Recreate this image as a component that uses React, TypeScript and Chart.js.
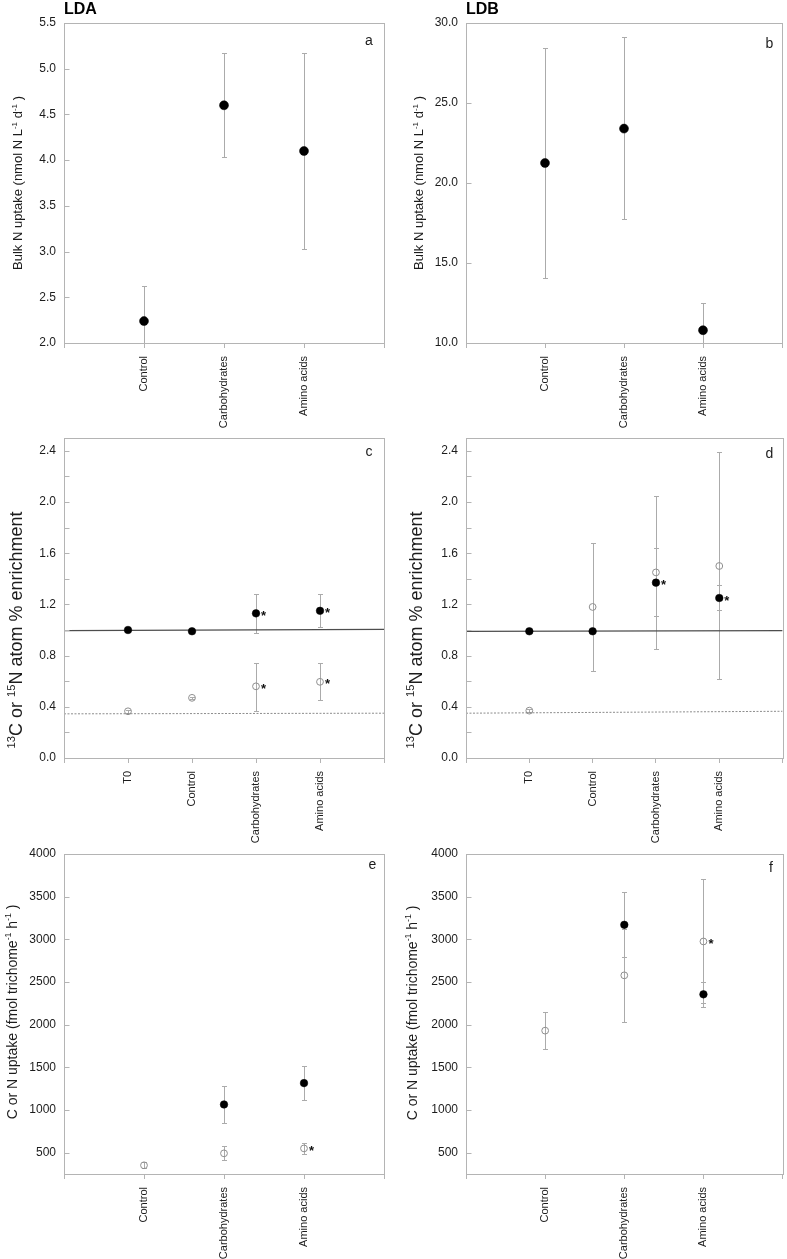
import React, { useEffect, useRef } from 'react';
import { Chart, registerables } from 'chart.js';

Chart.register(...registerables);

const FONT = '"Liberation Sans", Arial, Helvetica, sans-serif';
const FRAME = '#b4b4b4';
const TEXT = '#1c1c1c';
const ERR = '#ababab';

// ---------- categories ----------
const uptakeCategories = ['Control', 'Carbohydrates', 'Amino acids'];
const enrichCategories = ['T0', 'Control', 'Carbohydrates', 'Amino acids'];

// ---------- panel a : LDA bulk N uptake ----------
const ldaBulkMean = [2.24, 4.6, 4.1];
const ldaBulkLow = [1.86, 4.03, 3.03];
const ldaBulkHigh = [2.62, 5.17, 5.17];
const ldaBulkTicks = [2.0, 2.5, 3.0, 3.5, 4.0, 4.5, 5.0, 5.5];

// ---------- panel b : LDB bulk N uptake ----------
const ldbBulkMean = [21.25, 23.4, 10.8];
const ldbBulkLow = [14.05, 17.75, 9.1];
const ldbBulkHigh = [28.45, 29.1, 12.5];
const ldbBulkTicks = [10, 15, 20, 25, 30];

// ---------- panel c : LDA atom % enrichment ----------
const ldaC13 = [1.0, 0.99, 1.13, 1.15];
const ldaC13Low = [null, null, 0.98, 1.02];
const ldaC13High = [null, null, 1.28, 1.28];
const ldaC13Star = [false, false, true, true];
const ldaN15 = [0.365, 0.47, 0.56, 0.595];
const ldaN15Low = [0.355, 0.46, 0.37, 0.45];
const ldaN15High = [0.375, 0.48, 0.74, 0.74];
const ldaN15Star = [false, false, true, true];
const ldaC13Natural = [0.995, 1.005];
const ldaN15Natural = [0.345, 0.35];

// ---------- panel d : LDB atom % enrichment ----------
const ldbC13 = [0.99, 0.99, 1.37, 1.25];
const ldbC13Low = [null, null, 1.11, 1.16];
const ldbC13High = [null, null, 1.64, 1.35];
const ldbC13Star = [false, false, true, true];
const ldbN15 = [0.37, 1.18, 1.45, 1.5];
const ldbN15Low = [0.36, 0.68, 0.85, 0.62];
const ldbN15High = [0.38, 1.68, 2.05, 2.39];
const ldbC13Natural = [0.99, 0.995];
const ldbN15Natural = [0.35, 0.365];

const enrichTicks = [0, 0.2, 0.4, 0.6, 0.8, 1.0, 1.2, 1.4, 1.6, 1.8, 2.0, 2.2, 2.4];
const enrichLabelled = [0, 0.4, 0.8, 1.2, 1.6, 2.0, 2.4];

// ---------- panel e : LDA per-trichome uptake ----------
const ldaCellC = [null, 1065, 1315];
const ldaCellCLow = [null, 848, 1120];
const ldaCellCHigh = [null, 1283, 1520];
const ldaCellN = [352, 492, 550];
const ldaCellNLow = [320, 415, 490];
const ldaCellNHigh = [385, 578, 612];
const ldaCellNStar = [false, false, true];

// ---------- panel f : LDB per-trichome uptake ----------
const ldbCellC = [null, 3170, 2355];
const ldbCellCLow = [null, 2790, 2205];
const ldbCellCHigh = [null, 3555, 2505];
const ldbCellN = [1930, 2578, 2975];
const ldbCellNLow = [1715, 2030, 2250];
const ldbCellNHigh = [2145, 3125, 3705];
const ldbCellNStar = [false, false, true];

const cellTicks = [500, 1000, 1500, 2000, 2500, 3000, 3500, 4000];

// ---------- axis titles ----------
type Seg = { t: string; sup?: boolean };
const bulkTitle: Seg[] = [
  { t: 'Bulk N uptake (nmol N L' }, { t: '-1', sup: true }, { t: ' d' }, { t: '-1', sup: true }, { t: ' )' },
];
const enrichTitle: Seg[] = [
  { t: '13', sup: true }, { t: 'C or ' }, { t: '15', sup: true }, { t: 'N atom % enrichment' },
];
const cellTitle: Seg[] = [
  { t: 'C or N uptake (fmol trichome' }, { t: '-1', sup: true }, { t: ' h' }, { t: '-1', sup: true }, { t: ' )' },
];

type Series = {
  values: (number | null)[];
  low?: (number | null)[];
  high?: (number | null)[];
  star?: boolean[];
  filled: boolean;
};

type Panel = {
  left: number; top: number; width: number; height: number;
  area: { l: number; t: number; r: number; b: number };
  categories: string[];
  yMin: number; yMax: number; yTicks: number[]; yLabelled: number[]; yDecimals: number;
  series: Series[];
  baselines?: { values: number[]; dashed: boolean }[];
  title: Seg[]; titleSize: number; titleX: number; titleY: number;
  letter: string; letterX: number; letterY: number;
  heading?: string;
  pointRadius: number; openRadius: number;
};

const panels: Panel[] = [
  {
    left: 0, top: 0, width: 393, height: 432, area: { l: 64, t: 23, r: 384, b: 343 },
    categories: uptakeCategories, yMin: 2, yMax: 5.5, yTicks: ldaBulkTicks, yLabelled: ldaBulkTicks, yDecimals: 1,
    series: [{ values: ldaBulkMean, low: ldaBulkLow, high: ldaBulkHigh, filled: true }],
    title: bulkTitle, titleSize: 13, titleX: 17.3, titleY: 183,
    letter: 'a', letterX: 369, letterY: 45, heading: 'LDA', pointRadius: 4.5, openRadius: 3.4,
  },
  {
    left: 393, top: 0, width: 394, height: 432, area: { l: 466, t: 23, r: 784, b: 343 },
    categories: uptakeCategories, yMin: 10, yMax: 30, yTicks: ldbBulkTicks, yLabelled: ldbBulkTicks, yDecimals: 1,
    series: [{ values: ldbBulkMean, low: ldbBulkLow, high: ldbBulkHigh, filled: true }],
    title: bulkTitle, titleSize: 13, titleX: 418.3, titleY: 183,
    letter: 'b', letterX: 769.3, letterY: 48.3, heading: 'LDB', pointRadius: 4.5, openRadius: 3.4,
  },
  {
    left: 0, top: 432, width: 393, height: 413, area: { l: 64, t: 438, r: 384, b: 758 },
    categories: enrichCategories, yMin: 0, yMax: 2.5, yTicks: enrichTicks, yLabelled: enrichLabelled, yDecimals: 1,
    series: [
      { values: ldaN15, low: ldaN15Low, high: ldaN15High, star: ldaN15Star, filled: false },
      { values: ldaC13, low: ldaC13Low, high: ldaC13High, star: ldaC13Star, filled: true },
    ],
    baselines: [{ values: ldaC13Natural, dashed: false }, { values: ldaN15Natural, dashed: true }],
    title: enrichTitle, titleSize: 18, titleX: 15.7, titleY: 630,
    letter: 'c', letterX: 369, letterY: 456, pointRadius: 3.8, openRadius: 3.4,
  },
  {
    left: 393, top: 432, width: 394, height: 413, area: { l: 466, t: 438, r: 784, b: 758 },
    categories: enrichCategories, yMin: 0, yMax: 2.5, yTicks: enrichTicks, yLabelled: enrichLabelled, yDecimals: 1,
    series: [
      { values: ldbN15, low: ldbN15Low, high: ldbN15High, filled: false },
      { values: ldbC13, low: ldbC13Low, high: ldbC13High, star: ldbC13Star, filled: true },
    ],
    baselines: [{ values: ldbC13Natural, dashed: false }, { values: ldbN15Natural, dashed: true }],
    title: enrichTitle, titleSize: 18, titleX: 415.5, titleY: 630,
    letter: 'd', letterX: 769.3, letterY: 457.7, pointRadius: 3.8, openRadius: 3.4,
  },
  {
    left: 0, top: 845, width: 393, height: 414, area: { l: 64, t: 854, r: 384, b: 1174 },
    categories: uptakeCategories, yMin: 250, yMax: 4000, yTicks: cellTicks, yLabelled: cellTicks, yDecimals: 0,
    series: [
      { values: ldaCellN, low: ldaCellNLow, high: ldaCellNHigh, star: ldaCellNStar, filled: false },
      { values: ldaCellC, low: ldaCellCLow, high: ldaCellCHigh, filled: true },
    ],
    title: cellTitle, titleSize: 14, titleX: 11.7, titleY: 1012,
    letter: 'e', letterX: 372.3, letterY: 869.3, pointRadius: 3.8, openRadius: 3.4,
  },
  {
    left: 393, top: 845, width: 394, height: 414, area: { l: 466, t: 854, r: 784, b: 1174 },
    categories: uptakeCategories, yMin: 250, yMax: 4000, yTicks: cellTicks, yLabelled: cellTicks, yDecimals: 0,
    series: [
      { values: ldbCellN, low: ldbCellNLow, high: ldbCellNHigh, star: ldbCellNStar, filled: false },
      { values: ldbCellC, low: ldbCellCLow, high: ldbCellCHigh, filled: true },
    ],
    title: cellTitle, titleSize: 14, titleX: 411.7, titleY: 1013,
    letter: 'f', letterX: 771, letterY: 871.7, pointRadius: 3.8, openRadius: 3.4,
  },
];

function drawRotatedRich(ctx: CanvasRenderingContext2D, segs: Seg[], cx: number, cy: number, size: number) {
  ctx.save();
  ctx.translate(cx, cy);
  ctx.rotate(-Math.PI / 2);
  const parts = segs.map((s) => {
    const fs = s.sup ? size * 0.62 : size;
    ctx.font = `${fs}px ${FONT}`;
    return { ...s, fs, w: ctx.measureText(s.t).width };
  });
  const total = parts.reduce((a, p) => a + p.w, 0);
  let xx = -total / 2;
  ctx.fillStyle = TEXT;
  ctx.textBaseline = 'alphabetic';
  ctx.textAlign = 'left';
  const base = size * 0.36;
  parts.forEach((p) => {
    ctx.font = `${p.fs}px ${FONT}`;
    ctx.fillText(p.t, xx, p.sup ? base - size * 0.42 : base);
    xx += p.w;
  });
  ctx.restore();
}

const decorPlugin = {
  id: 'decor',
  beforeDatasetsDraw(chart: any, _args: any, opts: any) {
    const p: Panel = opts.p;
    const { ctx, chartArea: ca, scales } = chart;
    const x = scales.x;
    const y = scales.y;
    ctx.save();
    ctx.beginPath();
    ctx.rect(ca.left, ca.top, ca.right - ca.left, ca.bottom - ca.top);
    ctx.clip();
    ctx.strokeStyle = ERR;
    ctx.lineWidth = 1;
    p.series.forEach((s) => {
      if (!s.low || !s.high) return;
      s.values.forEach((v, i) => {
        const lo = s.low![i];
        const hi = s.high![i];
        if (v == null || lo == null || hi == null) return;
        const px = Math.round(x.getPixelForValue(i + 1)) + 0.5;
        const pl = Math.round(y.getPixelForValue(lo)) + 0.5;
        const ph = Math.round(y.getPixelForValue(hi)) + 0.5;
        ctx.beginPath();
        ctx.moveTo(px, pl);
        ctx.lineTo(px, ph);
        ctx.moveTo(px - 2.5, pl);
        ctx.lineTo(px + 2.5, pl);
        ctx.moveTo(px - 2.5, ph);
        ctx.lineTo(px + 2.5, ph);
        ctx.stroke();
      });
    });
    ctx.restore();
  },
  afterDraw(chart: any, _args: any, opts: any) {
    const p: Panel = opts.p;
    const { ctx, chartArea: ca, scales } = chart;
    const x = scales.x;
    const y = scales.y;
    ctx.save();
    // frame
    ctx.strokeStyle = FRAME;
    ctx.lineWidth = 1;
    const L = Math.round(ca.left) + 0.5;
    const R = Math.round(ca.right) + 0.5;
    const T = Math.round(ca.top) + 0.5;
    const B = Math.round(ca.bottom) + 0.5;
    ctx.strokeRect(L, T, R - L, B - T);
    // inner y tick marks
    ctx.beginPath();
    p.yTicks.forEach((v) => {
      const py = Math.round(y.getPixelForValue(v)) + 0.5;
      ctx.moveTo(L, py);
      ctx.lineTo(L + 5, py);
    });
    ctx.stroke();
    // significance stars
    ctx.fillStyle = '#111';
    ctx.font = `bold 13px ${FONT}`;
    ctx.textAlign = 'left';
    ctx.textBaseline = 'middle';
    p.series.forEach((s) => {
      if (!s.star) return;
      s.values.forEach((v, i) => {
        if (v == null || !s.star![i]) return;
        ctx.fillText('*', x.getPixelForValue(i + 1) + 5, y.getPixelForValue(v) + 3);
      });
    });
    // panel letter
    ctx.fillStyle = TEXT;
    ctx.font = `14px ${FONT}`;
    ctx.textAlign = 'center';
    ctx.textBaseline = 'alphabetic';
    ctx.fillText(p.letter, p.letterX - p.left, p.letterY - p.top);
    // heading
    if (p.heading) {
      ctx.font = `bold 16px ${FONT}`;
      ctx.textAlign = 'left';
      ctx.fillStyle = '#000';
      ctx.fillText(p.heading, p.area.l - p.left, 14 - p.top);
    }
    ctx.restore();
    drawRotatedRich(ctx, p.title, p.titleX - p.left, p.titleY - p.top, p.titleSize);
  },
};

function buildConfig(p: Panel): any {
  const n = p.categories.length;
  const xPositions = Array.from({ length: n + 2 }, (_, i) => i);
  const datasets: any[] = [];
  (p.baselines || []).forEach((bl) => {
    datasets.push({
      type: 'line',
      showLine: true,
      data: [
        { x: 0, y: bl.values[0] },
        { x: n + 1, y: bl.values[1] },
      ],
      borderColor: bl.dashed ? '#8c8c8c' : '#4d4d4d',
      borderWidth: bl.dashed ? 1 : 1.3,
      borderDash: bl.dashed ? [2, 1.5] : [],
      pointRadius: 0,
      fill: false,
      order: 3,
    });
  });
  p.series.forEach((s) => {
    datasets.push({
      type: 'scatter',
      data: s.values
        .map((v, i) => (v == null ? null : { x: i + 1, y: v }))
        .filter((d) => d !== null),
      pointRadius: s.filled ? p.pointRadius : p.openRadius,
      pointHoverRadius: s.filled ? p.pointRadius : p.openRadius,
      backgroundColor: s.filled ? '#000' : 'rgba(255,255,255,0)',
      borderColor: s.filled ? '#000' : '#8f8f8f',
      borderWidth: s.filled ? 0.5 : 1,
      order: s.filled ? 1 : 2,
    });
  });

  return {
    type: 'scatter',
    data: { datasets },
    options: {
      animation: false,
      responsive: false,
      devicePixelRatio: 1,
      events: [],
      layout: {
        padding: { left: 0, top: p.area.t - p.top, right: p.left + p.width - p.area.r, bottom: 0 },
      },
      plugins: {
        legend: { display: false },
        tooltip: { enabled: false },
        decor: { p },
      },
      scales: {
        x: {
          type: 'linear',
          min: 0,
          max: n + 1,
          afterBuildTicks: (s: any) => {
            s.ticks = xPositions.map((v) => ({ value: v }));
          },
          afterFit: (s: any) => {
            s.height = p.top + p.height - p.area.b;
            s.paddingLeft = 0;
            s.paddingRight = 0;
          },
          ticks: {
            autoSkip: false,
            minRotation: 90,
            maxRotation: 90,
            padding: 8,
            color: TEXT,
            font: { family: FONT, size: 11 },
            callback: (v: any) => p.categories[Number(v) - 1] ?? '',
          },
          grid: { drawOnChartArea: false, drawTicks: true, tickLength: 5, color: FRAME, lineWidth: 1 },
          border: { display: false },
        },
        y: {
          type: 'linear',
          min: p.yMin,
          max: p.yMax,
          afterBuildTicks: (s: any) => {
            s.ticks = p.yTicks.map((v) => ({ value: v }));
          },
          afterFit: (s: any) => {
            s.width = p.area.l - p.left;
            s.paddingTop = 0;
            s.paddingBottom = 0;
          },
          ticks: {
            autoSkip: false,
            padding: 8,
            color: TEXT,
            font: { family: FONT, size: 12 },
            callback: (v: any) =>
              p.yLabelled.some((l) => Math.abs(l - Number(v)) < 1e-9) ? Number(v).toFixed(p.yDecimals) : '',
          },
          grid: { drawOnChartArea: false, drawTicks: false },
          border: { display: false },
        },
      },
    },
    plugins: [decorPlugin],
  };
}

function PanelChart({ p }: { p: Panel }) {
  const ref = useRef<HTMLCanvasElement>(null);
  useEffect(() => {
    const chart = new Chart(ref.current as HTMLCanvasElement, buildConfig(p));
    return () => chart.destroy();
  }, [p]);
  return (
    <canvas
      ref={ref}
      width={p.width}
      height={p.height}
      style={{ position: 'absolute', left: p.left, top: p.top, width: p.width, height: p.height }}
    />
  );
}

export default function App() {
  return (
    <div style={{ position: 'absolute', left: 0, top: 0, width: 787, height: 1259, background: '#fff' }}>
      {panels.map((p, i) => (
        <PanelChart key={i} p={p} />
      ))}
    </div>
  );
}
